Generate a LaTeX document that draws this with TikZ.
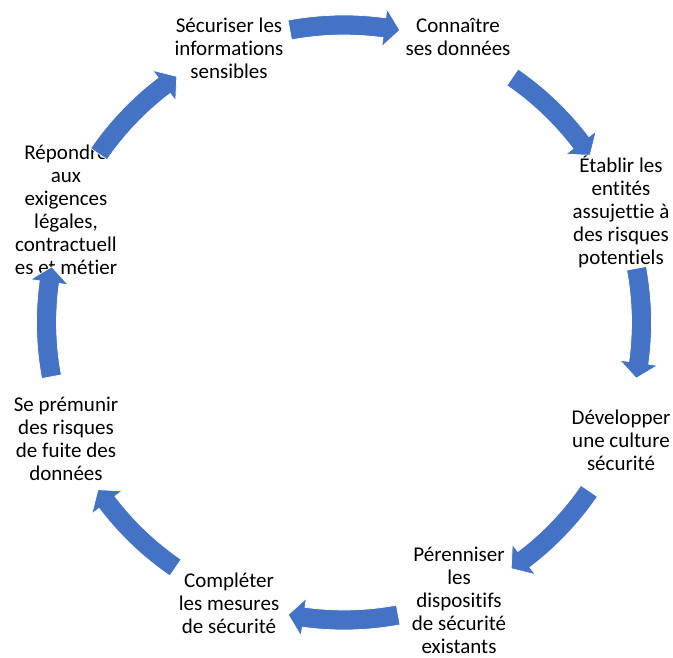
\documentclass[tikz,border=0pt]{standalone}
\usepackage{fontspec}
\setmainfont{Carlito}[Ligatures=CommonOff]
\definecolor{cycleblue}{HTML}{4472C4}
\tikzset{
  lbl/.style={align=center, inner sep=0pt, text=black,
    font=\fontsize{21}{23}\selectfont},
  cyclearr/.style={fill=cycleblue, draw=white, line width=0.7pt, line join=miter}
}
% curved block arrow around (ctr), centred on angle #1, running clockwise
\newcommand\cyclearrow[1]{%
  \pgfmathsetmacro\ta{#1+10.5}%
  \pgfmathsetmacro\tb{#1-10.8}%
  \pgfmathsetmacro\tc{#1-10.8+3.0}%
  \path[cyclearr] ([shift={(\ta:307.5)}]ctr)
    arc[start angle=\ta, end angle=\tc, radius=307.5]
    -- ([shift={(\tc:316.5)}]ctr)
    -- ([shift={(\tb:297.5)}]ctr)
    -- ([shift={(\tc:278.5)}]ctr)
    -- ([shift={(\tc:287.5)}]ctr)
    arc[start angle=\tc, end angle=\ta, radius=287.5]
    -- cycle;
}
\begin{document}
\begin{tikzpicture}[x=1pt, y=1pt]
  \useasboundingbox (0,0) rectangle (673,657);
  \coordinate (ctr) at (344,334.5);

  \node[lbl] (n1) at (229,608.5) {Sécuriser les\\informations\\sensibles};
  \node[lbl] (n2) at (458,620.5) {Connaître\\ses données};
  \node[lbl] (n3) at (621,446) {Établir les\\entités\\assujettie à\\des risques\\potentiels};
  \node[lbl] (n4) at (621,216.5) {Développer\\une culture\\sécurité};
  \node[lbl] (n5) at (459,56.5) {Pérenniser\\les\\dispositifs\\de sécurité\\existants};
  \node[lbl] (n6) at (229,53.5) {Compléter\\les mesures\\de sécurité};
  \node[lbl] (n7) at (66,218) {Se prémunir\\des risques\\de fuite des\\données};
  \node[lbl] (n8) at (66,447) {Répondre\\aux\\exigences\\légales,\\contractuell\\es et métier};

  \cyclearrow{90}
  \cyclearrow{45}
  \cyclearrow{0}
  \cyclearrow{-45}
  \cyclearrow{-90}
  \cyclearrow{-135}
  \cyclearrow{180}
  \cyclearrow{135}
\end{tikzpicture}
\end{document}
